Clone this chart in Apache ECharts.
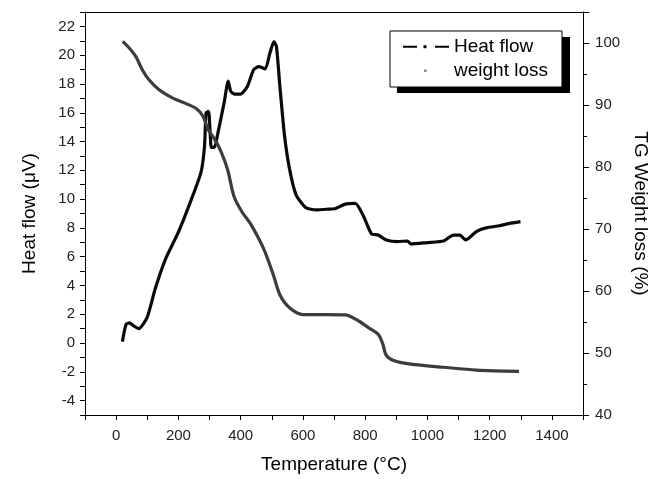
<!DOCTYPE html>
<html>
<head>
<meta charset="utf-8">
<script src="https://cdn.jsdelivr.net/npm/echarts@6/dist/echarts.min.js"></script>
<style>
html,body{margin:0;padding:0;background:#fff;overflow:hidden;}
#chart{width:658px;height:479px;}
</style>
</head>
<body>
<div id="chart"></div>
<script>
// Heat flow (left axis, µV) vs temperature (°C)
var heatFlowT = [20, 32, 42, 56, 73, 100, 126, 158, 200, 242, 273, 284, 289, 297, 302, 306, 316, 326, 347, 360, 368, 380, 400, 421, 442, 458, 479, 494, 507, 515, 526, 541, 557, 578, 610, 642, 680, 705, 736, 768, 794, 820, 842, 868, 904, 936, 947, 999, 1052, 1083, 1104, 1123, 1157, 1188, 1231, 1262, 1299];
var heatFlowV = [0.1, 1.3, 1.4, 1.2, 1.0, 1.8, 3.8, 5.8, 7.7, 10.0, 11.9, 13.7, 16.0, 16.1, 14.6, 13.6, 13.6, 14.5, 16.7, 18.2, 17.5, 17.3, 17.3, 17.8, 19.0, 19.2, 19.05, 20.15, 20.95, 20.6, 17.85, 14.4, 12.1, 10.3, 9.4, 9.25, 9.3, 9.35, 9.65, 9.7, 8.85, 7.6, 7.5, 7.16, 7.05, 7.09, 6.88, 6.98, 7.09, 7.5, 7.5, 7.16, 7.74, 8.0, 8.15, 8.3, 8.43];
// Weight loss (right axis, %) vs temperature (°C)
var weightT = [21, 42, 63, 84, 105, 137, 179, 221, 258, 279, 295, 316, 336, 358, 379, 405, 431, 473, 505, 526, 557, 600, 673, 736, 778, 810, 842, 857, 868, 894, 947, 1052, 1157, 1294];
var weightV = [100.25, 99.2, 97.85, 95.7, 94.1, 92.5, 91.2, 90.3, 89.4, 88.2, 86.1, 84.5, 82.6, 79.6, 75.2, 72.7, 70.9, 66.9, 62.6, 59.4, 57.3, 56.2, 56.2, 56.15, 55.2, 54.1, 53.0, 51.4, 49.6, 48.75, 48.2, 47.7, 47.25, 47.05];
var seriesNames = ['Heat flow', 'weight loss'];
var xTitle = 'Temperature (\u00B0C)';
var yLeftTitle = 'Heat flow (\u03BCV)';
var yRightTitle = 'TG Weight loss (%)';

function pairs(xs, ys) { return xs.map(function (x, i) { return [x, ys[i]]; }); }

var font = 'Arial, "Liberation Sans", sans-serif';
var chart = echarts.init(document.getElementById('chart'), null, {renderer: 'canvas'});
chart.setOption({
  backgroundColor: '#ffffff',
  animation: false,
  grid: {left: 85, right: 66, top: 12, bottom: 61},
  graphic: [{
    type: 'rect', left: 397, top: 37, z: 1,
    shape: {width: 173, height: 56},
    style: {fill: '#000'}
  }],
  legend: {
    orient: 'vertical',
    left: 390, top: 31, z: 10,
    padding: [6, 14, 7, 13],
    itemGap: 5,
    itemWidth: 46, itemHeight: 14,
    backgroundColor: '#ffffff',
    borderColor: '#000', borderWidth: 1,
    textStyle: {fontFamily: font, fontSize: 19, color: '#000'},
    data: [
      {name: seriesNames[0], icon: 'path://M0,0L0.01,0M46,14L46.01,14M0,6.2h14v2h-14zM20.5,5.7h3v3h-3zM32,6.2h14v2h-14z', itemStyle: {color: '#000'}},
      {name: seriesNames[1], icon: 'path://M0,0L0.01,0M46,14L46.01,14M21,6h2.6v2.6h-2.6z', itemStyle: {color: '#8a8a8a'}}
    ]
  },
  xAxis: [{
    type: 'value', min: -100, max: 1500, interval: 100,
    name: xTitle, nameLocation: 'middle', nameGap: 40,
    nameTextStyle: {fontFamily: font, fontSize: 19, color: '#000'},
    axisLine: {show: true, onZero: false, lineStyle: {color: '#000', width: 1}},
    axisTick: {show: true, length: 5, lineStyle: {color: '#000'}},
    axisLabel: {fontFamily: font, fontSize: 15, color: '#222', margin: 13,
      formatter: function (v) { return (v >= 0 && v <= 1400 && v % 200 === 0) ? String(v) : ''; }},
    splitLine: {show: false}
  }, {
    type: 'value', position: 'top', min: -100, max: 1500,
    axisLine: {show: true, onZero: false, lineStyle: {color: '#000', width: 1}},
    axisTick: {show: false}, axisLabel: {show: false}, splitLine: {show: false}
  }],
  yAxis: [{
    type: 'value', position: 'left', min: -5, max: 23, interval: 1,
    name: yLeftTitle, nameLocation: 'middle', nameGap: 46, nameRotate: 90,
    nameTextStyle: {fontFamily: font, fontSize: 19, color: '#000'},
    axisLine: {show: true, onZero: false, lineStyle: {color: '#000', width: 1}},
    axisTick: {show: true, length: 5, lineStyle: {color: '#000'}},
    axisLabel: {fontFamily: font, fontSize: 15, color: '#222', margin: 10,
      formatter: function (v) { return (v % 2 === 0 && v >= -4 && v <= 22) ? String(v) : ''; }},
    splitLine: {show: false}
  }, {
    type: 'value', position: 'right', min: 40, max: 105, interval: 10,
    name: yRightTitle, nameLocation: 'middle', nameGap: 43, nameRotate: -90,
    nameTextStyle: {fontFamily: font, fontSize: 19, color: '#000'},
    axisLine: {show: true, onZero: false, lineStyle: {color: '#000', width: 1}},
    axisTick: {show: true, length: 6, lineStyle: {color: '#000'}},
    minorTick: {show: true, splitNumber: 2, length: 4, lineStyle: {color: '#000'}},
    axisLabel: {fontFamily: font, fontSize: 15, color: '#222', margin: 12,
      formatter: function (v) { return (v % 10 === 0 && v <= 100) ? String(v) : ''; }},
    splitLine: {show: false}
  }],
  series: [{
    name: seriesNames[0], type: 'line', xAxisIndex: 0, yAxisIndex: 0,
    data: pairs(heatFlowT, heatFlowV), showSymbol: false, symbol: 'none', smooth: 0.2,
    lineStyle: {color: '#0a0a0a', width: 3.2}, itemStyle: {color: '#000'}
  }, {
    name: seriesNames[1], type: 'line', xAxisIndex: 0, yAxisIndex: 1,
    data: pairs(weightT, weightV), showSymbol: false, symbol: 'none', smooth: 0.3,
    lineStyle: {color: '#3c3c3c', width: 3.2}, itemStyle: {color: '#8a8a8a'}
  }]
});
</script>
</body>
</html>
